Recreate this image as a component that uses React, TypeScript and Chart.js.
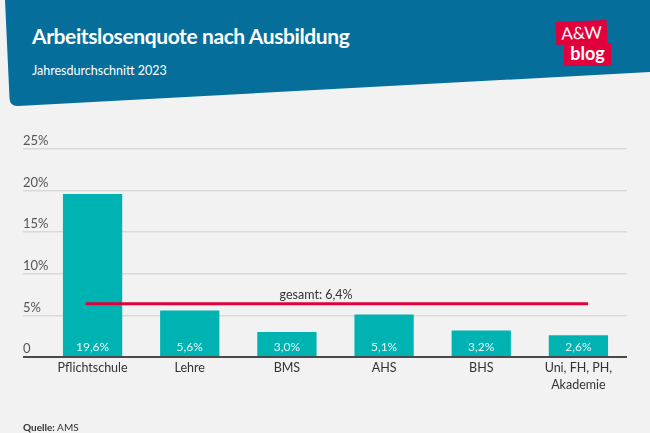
import React, { useEffect, useRef } from "react";
import { Chart, registerables } from "chart.js";
Chart.register(...registerables);

const categories: (string | string[])[] = ["Pflichtschule", "Lehre", "BMS", "AHS", "BHS", ["Uni, FH, PH,", "Akademie"]];
const rates = [19.6, 5.6, 3.0, 5.1, 3.2, 2.6];
const rateLabels = ["19,6%", "5,6%", "3,0%", "5,1%", "3,2%", "2,6%"];
const overallRate = 6.4;
const overallLabel = "gesamt: 6,4%";
const yTickValues = [0, 5, 10, 15, 20, 25];
const yTickLabels = ["0", "5%", "10%", "15%", "20%", "25%"];

const FONT = "Lato, 'Open Sans', sans-serif";

const decorPlugin = {
  id: "decor",
  afterDatasetsDraw(chart: any) {
    const { ctx, scales } = chart;
    const x = scales.x;
    const y = scales.y;
    ctx.save();
    // y tick labels above gridlines
    ctx.font = `13px ${FONT}`;
    ctx.fillStyle = "#555555";
    ctx.textAlign = "left";
    ctx.textBaseline = "middle";
    yTickValues.forEach((v, i) => {
      ctx.fillText(yTickLabels[i], y.left, y.getPixelForValue(v) - 8);
    });
    // bar value labels
    const meta = chart.getDatasetMeta(0);
    ctx.font = `12px ${FONT}`;
    ctx.fillStyle = "#e3f8f8";
    ctx.textAlign = "center";
    meta.data.forEach((bar: any, i: number) => {
      ctx.fillText(rateLabels[i], bar.x, y.getPixelForValue(0) - 10);
    });
    // overall line
    const yl = y.getPixelForValue(overallRate);
    ctx.strokeStyle = "#e2003c";
    ctx.lineWidth = 3;
    ctx.beginPath();
    ctx.moveTo(x.getPixelForValue(-0.07), yl);
    ctx.lineTo(x.getPixelForValue(5.1), yl);
    ctx.stroke();
    ctx.font = `12.5px ${FONT}`;
    ctx.fillStyle = "#333333";
    ctx.textAlign = "center";
    ctx.fillText(overallLabel, x.getPixelForValue(2.3), yl - 9);
    ctx.restore();
  },
};

function BarChart() {
  const ref = useRef<HTMLCanvasElement | null>(null);
  useEffect(() => {
    if (!ref.current) return;
    const chart = new Chart(ref.current, {
      type: "bar",
      data: {
        labels: categories as any,
        datasets: [
          {
            data: rates,
            backgroundColor: "#00b3b3",
            borderWidth: 0,
            barPercentage: 0.61,
            categoryPercentage: 1,
          },
        ],
      },
      options: {
        animation: false,
        responsive: false,
        devicePixelRatio: 1,
        layout: { padding: { left: 23, right: 23, top: 149, bottom: 36 } },
        plugins: { legend: { display: false }, tooltip: { enabled: false } },
        scales: {
          x: {
            grid: { display: false, drawTicks: false },
            border: { display: false },
            ticks: {
              color: "#333333",
              font: { family: FONT, size: 12.5, lineHeight: 1.35 },
              padding: 3,
              maxRotation: 0,
              autoSkip: false,
            },
            afterFit: (s: any) => {
              s.height = 40;
            },
          },
          y: {
            min: 0,
            max: 25,
            ticks: { display: false, stepSize: 5 },
            border: { display: false },
            grid: {
              color: (c: any) => (c.tick && c.tick.value === 0 ? "#4a4a4a" : "#d9d9d9"),
              lineWidth: (c: any) => (c.tick && c.tick.value === 0 ? 2 : 1.5),
              tickLength: 21,
              drawTicks: true,
            },
            afterFit: (s: any) => {
              s.width = 21;
            },
          },
        },
      },
      plugins: [decorPlugin],
    });
    return () => chart.destroy();
  }, []);
  return <canvas ref={ref} width={650} height={433} style={{ position: "absolute", left: 0, top: 0 }} />;
}

export default function App() {
  return (
    <div style={{ position: "absolute", left: 0, top: 0, width: 650, height: 433, background: "#f2f2f2", overflow: "hidden", fontFamily: FONT }}>
      <svg width={650} height={433} style={{ position: "absolute", left: 0, top: 0 }}>
        <path d="M 5 0 L 650 0 L 650 72 L 18 106 Q 10 106.5 9.5 98 Z" fill="#066e9a" />
      </svg>
      <div style={{ position: "absolute", left: 32, top: 23, color: "#fff", fontWeight: 700, fontSize: 21, letterSpacing: -0.4, whiteSpace: "nowrap" }}>
        Arbeitslosenquote nach Ausbildung
      </div>
      <div style={{ position: "absolute", left: 32, top: 63, color: "#fff", fontSize: 12.5, whiteSpace: "nowrap" }}>
        Jahresdurchschnitt 2023
      </div>
      <div style={{ position: "absolute", left: 556, top: 21, width: 51, height: 23, background: "#e2003c", color: "#fff", fontSize: 17, lineHeight: "23px", textAlign: "center", transform: "rotate(-2deg)" }}>
        A&amp;W
      </div>
      <div style={{ position: "absolute", left: 564, top: 43, width: 47, height: 23, background: "#e2003c", color: "#fff", fontSize: 18, fontWeight: 700, lineHeight: "21px", textAlign: "center" }}>
        blog
      </div>
      <BarChart />
      <div style={{ position: "absolute", left: 23, top: 421, color: "#333", fontSize: 10, whiteSpace: "nowrap" }}>
        <b>Quelle:</b> AMS
      </div>
    </div>
  );
}
